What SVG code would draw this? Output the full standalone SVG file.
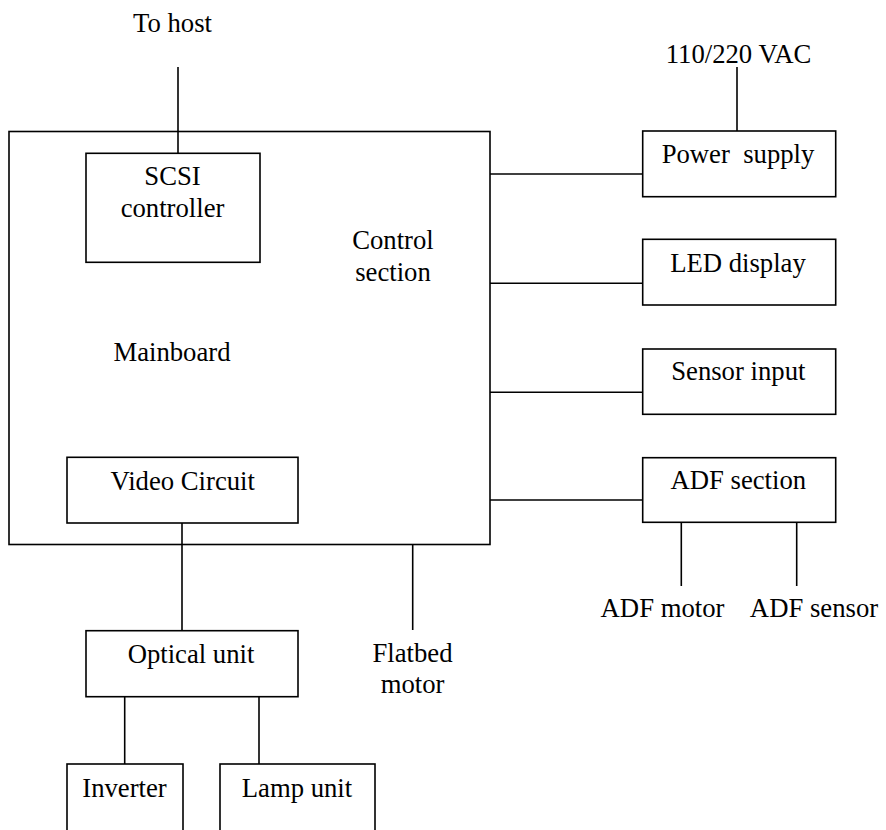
<svg xmlns="http://www.w3.org/2000/svg" width="886" height="830" viewBox="0 0 886 830" font-family="'Liberation Serif', 'Times New Roman', 'DejaVu Serif', serif">
<style>
rect{fill:none;stroke:#000;stroke-width:1.6}
line{stroke:#000;stroke-width:1.6}
text{font-family:'Liberation Serif','Times New Roman','DejaVu Serif',serif;font-size:26.7px;fill:#000;text-anchor:middle}
</style>
<rect x="0" y="0" width="886" height="830" style="fill:#fff;stroke:none"/>
<g id="connectors">
<line x1="178" y1="67" x2="178" y2="153"/>
<line x1="737" y1="67" x2="737" y2="131"/>
<line x1="490" y1="174" x2="643" y2="174"/>
<line x1="490" y1="283.3" x2="643" y2="283.3"/>
<line x1="490" y1="392.3" x2="643" y2="392.3"/>
<line x1="490" y1="500" x2="643" y2="500"/>
<line x1="681.3" y1="522.3" x2="681.3" y2="586"/>
<line x1="796.7" y1="522.3" x2="796.7" y2="586"/>
<line x1="182" y1="523" x2="182" y2="630.7"/>
<line x1="412.7" y1="544" x2="412.7" y2="630"/>
<line x1="124.7" y1="696.7" x2="124.7" y2="764"/>
<line x1="259" y1="696.7" x2="259" y2="764"/>
</g>
<g id="tohost"><text x="172.5" y="32">To host</text></g>
<g id="vac"><text x="738.5" y="63">110/220 VAC</text></g>
<g id="mainboard">
<rect x="9" y="131.5" width="481" height="413"/>
<text x="172" y="361">Mainboard</text>
</g>
<g id="control"><text x="393" y="249">Control</text><text x="393" y="280.5">section</text></g>
<g id="scsi">
<rect x="86" y="153.3" width="174" height="109"/>
<text x="172.5" y="185">SCSI</text>
<text x="172.5" y="216.5">controller</text>
</g>
<g id="video">
<rect x="67" y="457.3" width="231" height="65.7"/>
<text x="182.7" y="490">Video Circuit</text>
</g>
<g id="power">
<rect x="642.7" y="131" width="193" height="65.7"/>
<text x="738" y="163.3" xml:space="preserve">Power  supply</text>
</g>
<g id="led">
<rect x="642.7" y="239.3" width="193" height="65.7"/>
<text x="738" y="271.7">LED display</text>
</g>
<g id="sensor">
<rect x="642.7" y="349" width="193" height="65.3"/>
<text x="738.3" y="380">Sensor input</text>
</g>
<g id="adf">
<rect x="642.7" y="457.7" width="193" height="64.6"/>
<text x="738.3" y="489.3">ADF section</text>
</g>
<g id="adfmotor"><text x="662.5" y="616.7">ADF motor</text></g>
<g id="adfsensor"><text x="814" y="616.7">ADF sensor</text></g>
<g id="optical">
<rect x="86" y="630.7" width="212" height="66"/>
<text x="191" y="662.7">Optical unit</text>
</g>
<g id="flatbed"><text x="412.5" y="661.7">Flatbed</text><text x="412.5" y="693">motor</text></g>
<g id="inverter">
<rect x="67" y="764" width="116" height="80"/>
<text x="124.5" y="797">Inverter</text>
</g>
<g id="lamp">
<rect x="220" y="764" width="155" height="80"/>
<text x="297" y="797">Lamp unit</text>
</g>
</svg>
